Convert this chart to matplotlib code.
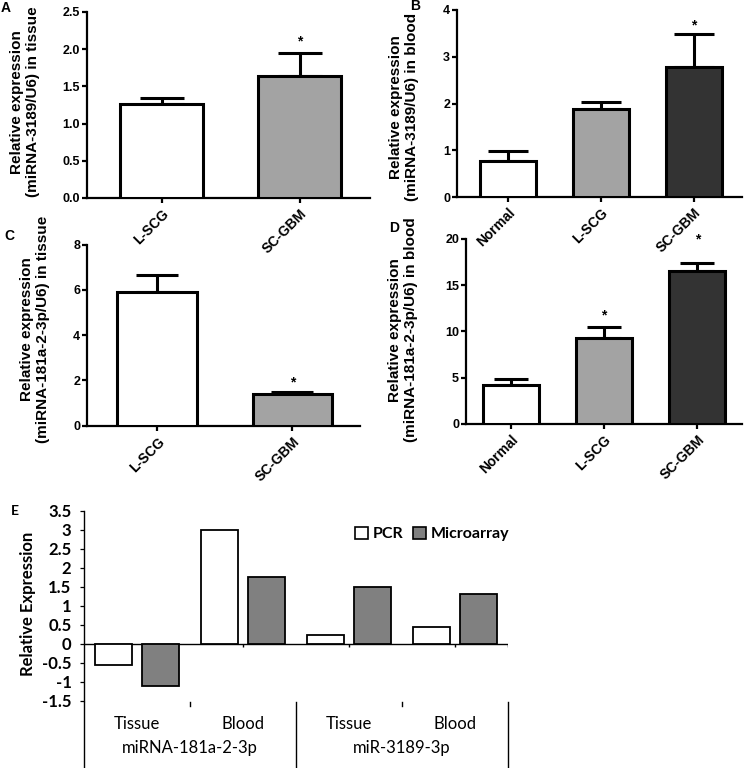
import matplotlib
matplotlib.use("Agg")
import matplotlib.pyplot as plt
import matplotlib.transforms as mtransforms
from matplotlib.patches import Patch
import numpy as np

W, H = 745, 768

# A: miRNA-3189 in tissue
a_groups = ["L-SCG", "SC-GBM"]
a_mean = [1.26, 1.64]
a_err = [0.09, 0.31]
# B: miRNA-3189 in blood
b_groups = ["Normal", "L-SCG", "SC-GBM"]
b_mean = [0.76, 1.88, 2.79]
b_err = [0.22, 0.15, 0.69]
# C: miRNA-181a-2-3p in tissue
c_groups = ["L-SCG", "SC-GBM"]
c_mean = [5.93, 1.39]
c_err = [0.71, 0.11]
# D: miRNA-181a-2-3p in blood
d_groups = ["Normal", "L-SCG", "SC-GBM"]
d_mean = [4.17, 9.24, 16.5]
d_err = [0.65, 1.26, 0.90]

# E: PCR vs microarray
e_cats = ["Tissue", "Blood", "Tissue", "Blood"]
e_genes = ["miRNA-181a-2-3p", "miR-3189-3p"]
e_pcr = [-0.57, 3.0, 0.22, 0.44]
e_micro = [-1.11, 1.76, 1.48, 1.31]

plt.rcParams["font.family"] = ["Liberation Sans", "DejaVu Sans"]
plt.rcParams["font.weight"] = "bold"
plt.rcParams["axes.labelweight"] = "bold"
plt.rcParams["axes.facecolor"] = "none"

fig = plt.figure(figsize=(W / 100, H / 100), dpi=100)


def px_axes(left, top, right, bottom):
    return fig.add_axes([left / W, 1 - bottom / H,
                         (right - left) / W, (bottom - top) / H])


def prism_panel(ax, groups, mean, err, colors, ylim, yticks, fmt, xlim,
                capsize, stars, width=0.6):
    x = np.arange(len(groups))
    ax.errorbar(x, mean, yerr=[np.zeros(len(err)), err], fmt="none",
                ecolor="black", elinewidth=2.2, capsize=capsize, capthick=2.2,
                zorder=2)
    ax.bar(x, mean, width=width, color=colors, edgecolor="black",
           linewidth=2.2, zorder=3)
    for i, off in stars:
        ax.annotate("*", (x[i], mean[i] + err[i]), xytext=(0, off),
                    textcoords="offset points", ha="center", va="bottom",
                    fontsize=10, fontweight="bold")
    ax.set_xlim(*xlim)
    ax.set_ylim(*ylim)
    ax.set_yticks(yticks)
    ax.set_yticklabels([fmt.format(v) for v in yticks], fontsize=9)
    ax.set_xticks(x)
    ax.set_xticklabels(groups, rotation=45, ha="right",
                       rotation_mode="anchor", fontsize=10)
    ax.spines[["top", "right"]].set_visible(False)
    ax.spines[["left", "bottom"]].set_linewidth(1.6)
    ax.tick_params(length=3.5, width=1.6, pad=1.5)
    ax.tick_params(axis="x", pad=3)


def ylabel(x, y, lines, gap=16):
    # two rotated lines, drawn separately
    for k, txt in enumerate(lines):
        fig.text((x + (k - 0.5) * gap) / W, 1 - y / H, txt, rotation=90,
                 ha="center", va="center", fontsize=11, fontweight="bold")


def letter(x, y, text, family=None):
    fig.text(x / W, 1 - y / H, text, ha="left", va="top", fontsize=10,
             fontweight="bold", family=family)


two = ["white", "#a3a3a3"]
three = ["white", "#a3a3a3", "#333333"]

ax_a = px_axes(87, 12, 370, 198)
prism_panel(ax_a, a_groups, a_mean, a_err, two, (0, 2.5),
            np.arange(0, 2.51, 0.5), "{:.1f}", (-0.54, 1.51), 15.5, [(1, 3)])
ylabel(25, 102, ["Relative expression", "(miRNA-3189/U6) in tissue"])
letter(1, 1, "A")

ax_b = px_axes(457, 10, 742, 197)
prism_panel(ax_b, b_groups, b_mean, b_err, three, (0, 4), np.arange(0, 5),
            "{:d}", (-0.55, 2.52), 14.5, [(2, 1)])
ylabel(404, 107, ["Relative expression", "(miRNA-3189/U6) in blood"])
letter(410, -1, "B")

ax_c = px_axes(87, 244.7, 360, 425.7)
prism_panel(ax_c, c_groups, c_mean, c_err, two, (0, 8), np.arange(0, 9, 2),
            "{:d}", (-0.52, 1.50), 14.8, [(1, 2)], width=0.59)
ylabel(35, 329, ["Relative expression", "(miRNA-181a-2-3p/U6) in tissue"])
letter(4, 229, "C")

ax_d = px_axes(466, 238.7, 742, 424)
prism_panel(ax_d, d_groups, d_mean, d_err, three, (0, 20),
            np.arange(0, 21, 5), "{:d}", (-0.48, 2.48), 12, [(1, 3), (2, 12)])
ylabel(403, 330, ["Relative expression", "(miRNA-181a-2-3p/U6) in blood"])
letter(389, 221, "D")

# panel E, Excel-style
calibri = ["Lato", "DejaVu Sans"]
ax_e = px_axes(84, 510.7, 508, 700.7)
x = np.arange(len(e_cats))
ax_e.bar(x - 0.22, e_pcr, 0.35, color="white", edgecolor="black",
         linewidth=1.3, zorder=3)
ax_e.bar(x + 0.22, e_micro, 0.35, color="#808080", edgecolor="black",
         linewidth=1.3, zorder=3)
ax_e.set_xlim(-0.5, 3.5)
ax_e.set_ylim(-1.5, 3.5)
yt = np.arange(-1.5, 3.51, 0.5)
ax_e.set_yticks(yt)
ax_e.set_yticklabels([f"{v:g}" for v in yt], family=calibri,
                     fontweight="bold", fontsize=12)
ax_e.set_xticks([])
ax_e.tick_params(axis="y", length=3, width=0.9, pad=6)
ax_e.spines[["top", "right", "bottom"]].set_visible(False)
ax_e.spines["left"].set_linewidth(1)
ax_e.axhline(0, color="black", linewidth=1, zorder=2)
ax_e.vlines([1, 2, 3, 3.5], -0.08, 0, color="black", linewidth=1)

bl = mtransforms.blended_transform_factory(ax_e.transData, ax_e.transAxes)
for gx in [-0.5, 1.5, 3.5]:
    ax_e.plot([gx, gx], [-0.007, -0.354], color="black", linewidth=1,
              transform=bl, clip_on=False)
for tx in [0.5, 2.5]:
    ax_e.plot([tx, tx], [-0.007, -0.03], color="black", linewidth=1,
              transform=bl, clip_on=False)
for i, c in enumerate(e_cats):
    ax_e.text(i, -0.123, c, transform=bl, ha="center", va="center",
              family=calibri, fontweight="normal", fontsize=12)
for j, g in enumerate(e_genes):
    ax_e.text(2 * j + 0.5, -0.249, g, transform=bl, ha="center",
              va="center", family=calibri, fontweight="normal", fontsize=12)
fig.text(28 / W, 1 - 604 / H, "Relative Expression", rotation=90,
         ha="center", va="center", family=calibri, fontweight="bold",
         fontsize=12)
letter(11, 505, "E", family=calibri)

handles = [Patch(facecolor="white", edgecolor="black", linewidth=1.2),
           Patch(facecolor="#808080", edgecolor="black", linewidth=1.2)]
fig.legend(handles, ["PCR", "Microarray"], loc="center",
           bbox_to_anchor=(432 / W, 1 - 534 / H), ncol=2, frameon=False,
           handlelength=0.8, handleheight=0.8, handletextpad=0.3,
           columnspacing=0.6, prop={"family": calibri, "size": 11.5})

fig.savefig("out.png", dpi=100, facecolor="white")
